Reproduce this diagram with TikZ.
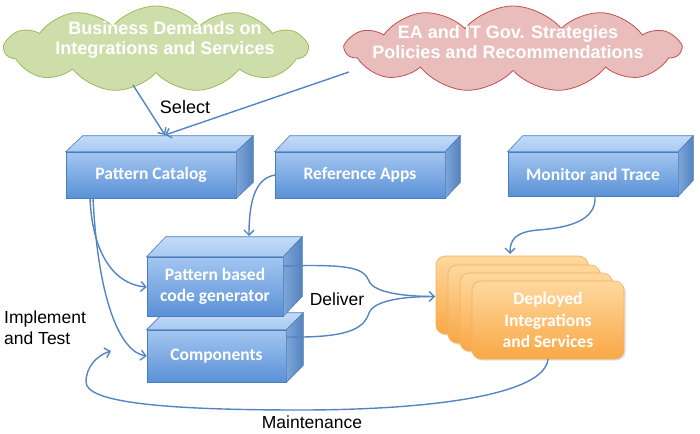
\documentclass[tikz,border=0pt]{standalone}
\usepackage{fontspec}
\setmainfont{Liberation Sans}
\newfontfamily\boxfont{Carlito}
\usetikzlibrary{arrows.meta,shapes.symbols,shadows,calc}

\definecolor{arrowblue}{HTML}{5485C2}
\definecolor{boxedge}{HTML}{4A7EBB}
\definecolor{frontTop}{HTML}{A3C6F1}
\definecolor{frontBot}{HTML}{5A91D6}
\definecolor{topA}{HTML}{C2DBF8}
\definecolor{topB}{HTML}{A8C9F2}
\definecolor{sideA}{HTML}{7DA5D8}
\definecolor{sideB}{HTML}{5583C0}
\definecolor{cardTop}{HTML}{FFD89E}
\definecolor{cardBot}{HTML}{F9A846}
\definecolor{cardEdge}{HTML}{F2B062}
\definecolor{greenFill}{HTML}{CEDEAB}
\definecolor{greenEdge}{HTML}{9BBB59}
\definecolor{pinkFill}{HTML}{E8BDBC}
\definecolor{pinkEdge}{HTML}{C0504D}

\tikzset{
  arr/.style={draw=arrowblue, line width=1.4pt, -{Straight Barb[length=5pt,width=10pt]}},
  plainline/.style={draw=arrowblue, line width=1.4pt},
  cubefront/.style={draw=boxedge, line width=0.6pt, top color=frontTop, bottom color=frontBot,
    font=\boxfont\bfseries\fontsize{17.5}{21}\selectfont, text=white, align=center, inner sep=0pt},
  cubetop/.style={draw=boxedge, line width=0.6pt, top color=topA, bottom color=topB},
  cubeside/.style={draw=boxedge, line width=0.6pt, left color=sideA, right color=sideB},
  card/.style={draw=cardEdge, line width=0.6pt, rounded corners=9pt, top color=cardTop, bottom color=cardBot,
    minimum width=152pt, minimum height=78pt, inner sep=0pt,
    drop shadow={opacity=0.25, shadow xshift=1.5pt, shadow yshift=-1.5pt},
    font=\boxfont\bfseries\fontsize{17.5}{21.5}\selectfont, text=white, align=center},
  cloudbase/.style={cloud, cloud puffs=11, cloud puff arc=100, cloud ignores aspect, line width=0.8pt, inner sep=0pt},
  cloudtext/.style={font=\bfseries\fontsize{18}{20.5}\selectfont, text=white, align=center},
  lab/.style={font=\fontsize{17.5}{21}\selectfont, text=black, inner sep=0pt}
}

\newcommand\cubeparts[3]{%
  \path[cubetop] (#1.north west) -- ++(#2,-#3) -- ($(#1.north east)+(#2,-#3)$) -- (#1.north east) -- cycle;
  \path[cubeside] (#1.north east) -- ++(#2,-#3) -- ($(#1.south east)+(#2,-#3)$) -- (#1.south east) -- cycle;
}

\begin{document}
\begin{tikzpicture}[x=1pt,y=-1pt]
\useasboundingbox (0,0) rectangle (700,433);

% clouds
\node[cloudbase, draw=greenEdge, fill=greenFill, minimum width=302pt, minimum height=86pt] (gc) at (156,49) {};
\node[cloudtext] (gct) at (165,40) {Business Demands on\\Integrations and Services};
\node[cloudbase, draw=pinkEdge, fill=pinkFill, minimum width=334pt, minimum height=86pt] (ec) at (513,49) {};
\node[cloudtext] (ect) at (508,42) {EA and IT Gov. Strategies\\Policies and Recommendations};

% top row boxes
\node[cubefront, minimum width=170pt, minimum height=46pt] (pc) at (151,175) {Pattern Catalog};
\cubeparts{pc}{17}{16}
\node[cubefront, minimum width=170pt, minimum height=46pt] (ra) at (360,175) {Reference Apps};
\cubeparts{ra}{15}{16}
\node[cubefront, minimum width=170pt, minimum height=44pt] (mt) at (593,174) {Monitor and Trace};
\cubeparts{mt}{15}{16}

% middle stack
\node[cubefront, minimum width=139pt, minimum height=52pt] (cp) at (216.5,356) {Components};
\cubeparts{cp}{17}{17}
\node[cubefront, minimum width=136pt, minimum height=59pt] (pg) at (215,286.5) {Pattern based\\code generator};
\cubeparts{pg}{19}{20}

% deployed cards
\node[card] (d1) at (512,295) {};
\node[card] (d2) at (524,304) {};
\node[card] (d3) at (536,312) {};
\node[card] (d4) at (548,320) {Deployed\\Integrations\\and Services};

% labels
\node[lab, font=\fontsize{18}{21}\selectfont] (sel) at (185,107) {Select};
\node[lab, align=left, anchor=west] (impl) at (4,328) {Implement\\and Test};
\node[lab] (dlv) at (337,299) {Deliver};
\node[lab] (mnt) at (312,422) {Maintenance};

% connection points
\coordinate (gcout) at (133,85);
\coordinate (ecout) at (349,72);
\coordinate (pctop) at (165,135);
\coordinate (pgtop) at (249,236);
\coordinate (pcb1) at (90,198);
\coordinate (pcb2) at (93,198);
\coordinate (raw) at (275,175);
\coordinate (pge) at (283,266);
\coordinate (cpe) at (287,337);
\coordinate (dleft) at (435,296.5);
\coordinate (dtop) at (510,254);
\coordinate (mtb) at (595,196);
\coordinate (dbot) at (548,359);
\coordinate (mntend) at (111,351);

% connectors
\draw[arr] (gcout) -- (pctop);
\draw[arr] (ecout) -- (pctop);
\draw[arr] (raw) .. controls (258,178) and (249,195) .. (pgtop);
\draw[arr] (pcb1) .. controls (92,250) and (112,284) .. (pg.west |- 0,287);
\draw[arr] (pcb2) .. controls (98,300) and (120,352) .. (cp.west |- 0,356);
\draw[plainline] (pge) .. controls (350,264) and (364,268) .. (369,281) .. controls (374,293) and (405,296.5) .. (dleft);
\draw[arr] (cpe) .. controls (350,338) and (364,328) .. (369,313) .. controls (374,300) and (405,296.5) .. (dleft);
\draw[arr] (mtb) .. controls (597,222) and (565,228) .. (538,230) .. controls (515,232) and (510,240) .. (dtop);
\draw[arr] (dbot) .. controls (545,395) and (430,410) .. (300,410) .. controls (160,410) and (86,402) .. (86,382) .. controls (86,366) and (98,355) .. (mntend);
\end{tikzpicture}
\end{document}
